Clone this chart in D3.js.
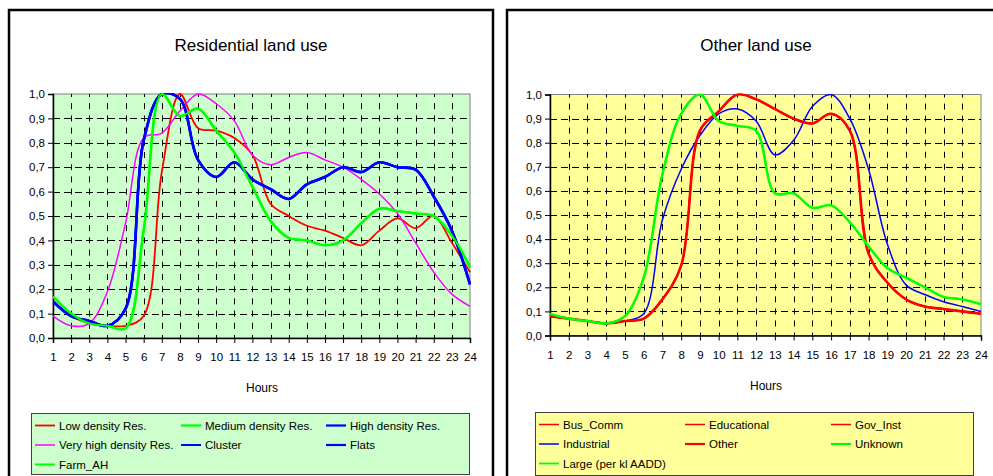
<!DOCTYPE html>
<html>
<head>
<meta charset="utf-8">
<script src="https://cdn.jsdelivr.net/npm/d3@7"></script>
<style>
  body { margin: 0; background: #fff; }
  svg { display: block; font-family: "Comic Sans MS", "Liberation Sans", Arial, sans-serif; }
  .tick-label { font-size: 11.5px; fill: #000; }
  .title { font-size: 17px; fill: #000; }
  .axis-title { font-size: 12px; fill: #000; }
  .legend-label { font-size: 11.5px; fill: #000; }
</style>
</head>
<body>
<svg width="993" height="476"></svg>
<script>
// hours on the x axis
const hours = [1, 2, 3, 4, 5, 6, 7, 8, 9, 10, 11, 12, 13, 14, 15, 16, 17, 18, 19, 20, 21, 22, 23, 24]
const yTicks = [0, 0.1, 0.2, 0.3, 0.4, 0.5, 0.6, 0.7, 0.8, 0.9, 1.0]

// Residential land use
const lowDensity = [0.15, 0.09, 0.06, 0.05, 0.05, 0.09, 0.68, 1.00, 0.86, 0.85, 0.82, 0.75, 0.55, 0.50, 0.46, 0.44, 0.41, 0.38, 0.44, 0.49, 0.45, 0.50, 0.39, 0.27]
const mediumDensity = [0.17, 0.10, 0.06, 0.05, 0.04, 0.44, 1.00, 0.91, 0.94, 0.85, 0.76, 0.62, 0.48, 0.41, 0.40, 0.38, 0.40, 0.47, 0.53, 0.52, 0.51, 0.50, 0.42, 0.29]
const highDensity = [0.15, 0.09, 0.07, 0.05, 0.12, 0.81, 1.00, 0.98, 0.73, 0.66, 0.72, 0.65, 0.61, 0.57, 0.63, 0.66, 0.70, 0.68, 0.72, 0.70, 0.69, 0.58, 0.44, 0.22]
const veryHighDensity = [0.09, 0.05, 0.06, 0.19, 0.47, 0.82, 0.84, 0.93, 1.00, 0.96, 0.89, 0.75, 0.71, 0.74, 0.76, 0.73, 0.70, 0.65, 0.59, 0.51, 0.39, 0.27, 0.18, 0.13]
const cluster = [0.15, 0.09, 0.07, 0.05, 0.12, 0.81, 1.00, 0.98, 0.73, 0.66, 0.72, 0.65, 0.61, 0.57, 0.63, 0.66, 0.70, 0.68, 0.72, 0.70, 0.69, 0.58, 0.44, 0.22]
const flats = [0.15, 0.09, 0.07, 0.05, 0.12, 0.81, 1.00, 0.98, 0.73, 0.66, 0.72, 0.65, 0.61, 0.57, 0.63, 0.66, 0.70, 0.68, 0.72, 0.70, 0.69, 0.58, 0.44, 0.22]
const farmAH = [0.17, 0.10, 0.06, 0.05, 0.04, 0.44, 1.00, 0.91, 0.94, 0.85, 0.76, 0.62, 0.48, 0.41, 0.40, 0.38, 0.40, 0.47, 0.53, 0.52, 0.51, 0.50, 0.42, 0.29]

// Other land use
const busComm = [0.08, 0.07, 0.06, 0.05, 0.06, 0.07, 0.15, 0.29, 0.85, 0.93, 1.00, 0.98, 0.94, 0.90, 0.88, 0.92, 0.85, 0.34, 0.22, 0.15, 0.12, 0.11, 0.10, 0.09]
const educational = [0.08, 0.07, 0.06, 0.05, 0.06, 0.07, 0.15, 0.29, 0.85, 0.93, 1.00, 0.98, 0.94, 0.90, 0.88, 0.92, 0.85, 0.34, 0.22, 0.15, 0.12, 0.11, 0.10, 0.09]
const govInst = [0.08, 0.07, 0.06, 0.05, 0.06, 0.07, 0.15, 0.29, 0.85, 0.93, 1.00, 0.98, 0.94, 0.90, 0.88, 0.92, 0.85, 0.34, 0.22, 0.15, 0.12, 0.11, 0.10, 0.09]
const industrial = [0.08, 0.07, 0.06, 0.05, 0.06, 0.09, 0.48, 0.69, 0.83, 0.92, 0.94, 0.89, 0.75, 0.81, 0.95, 1.00, 0.90, 0.69, 0.38, 0.21, 0.17, 0.14, 0.12, 0.10]
const other = [0.08, 0.07, 0.06, 0.05, 0.06, 0.07, 0.15, 0.29, 0.85, 0.93, 1.00, 0.98, 0.94, 0.90, 0.88, 0.92, 0.85, 0.34, 0.22, 0.15, 0.12, 0.11, 0.10, 0.09]
const unknown = [0.09, 0.07, 0.06, 0.05, 0.08, 0.24, 0.67, 0.92, 1.00, 0.89, 0.87, 0.85, 0.59, 0.59, 0.53, 0.54, 0.47, 0.37, 0.28, 0.24, 0.20, 0.16, 0.15, 0.13]
const largeAADD = [0.09, 0.07, 0.06, 0.05, 0.08, 0.24, 0.67, 0.92, 1.00, 0.89, 0.87, 0.85, 0.59, 0.59, 0.53, 0.54, 0.47, 0.37, 0.28, 0.24, 0.20, 0.16, 0.15, 0.13]

const residentialSeries = [
    { name: "Low density Res.", values: lowDensity, color: "#ff0000", width: 1.8 },
    { name: "Medium density Res.", values: mediumDensity, color: "#00ff00", width: 2.5 },
    { name: "High density Res.", values: highDensity, color: "#0000ff", width: 2.6 },
    { name: "Very high density Res.", values: veryHighDensity, color: "#ff00ff", width: 1.5 },
    { name: "Cluster", values: cluster, color: "#0000ff", width: 2 },
    { name: "Flats", values: flats, color: "#0000ff", width: 2.6 },
    { name: "Farm_AH", values: farmAH, color: "#00ff00", width: 2 }
]

const otherSeries = [
    { name: "Bus_Comm", values: busComm, color: "#ff0000", width: 1.5 },
    { name: "Educational", values: educational, color: "#ff0000", width: 1.5 },
    { name: "Gov_Inst", values: govInst, color: "#ff0000", width: 1.5 },
    { name: "Industrial", values: industrial, color: "#0000ff", width: 1.5 },
    { name: "Other", values: other, color: "#ff0000", width: 2.6 },
    { name: "Unknown", values: unknown, color: "#00ff00", width: 2.4 },
    { name: "Large (per kl AADD)", values: largeAADD, color: "#00ff00", width: 1.8 }
]

const svg = d3.select("svg")

drawPanel({
    id: "res", frameX: 9, frameW: 484,
    title: "Residential land use", titleX: 251,
    plot: { left: 53, right: 470, top: 94, bottom: 338 },
    bg: "#ccffcc", series: residentialSeries,
    hoursY: 392, hoursX: 262,
    legend: { x: 31, y: 413, w: 438, h: 61, cols: [4, 150, 295] }
})

drawPanel({
    id: "oth", frameX: 507, frameW: 500,
    title: "Other land use", titleX: 756,
    plot: { left: 550, right: 981, top: 94.5, bottom: 335.5 },
    bg: "#ffff99", series: otherSeries,
    hoursY: 390, hoursX: 766,
    legend: { x: 535, y: 412, w: 438, h: 63, cols: [4, 150, 296] }
})

function drawPanel(cfg) {
    const p = cfg.plot
    const g = svg.append("g")

    // outer frame
    g.append("rect")
        .attr("x", cfg.frameX).attr("y", 10)
        .attr("width", cfg.frameW).attr("height", 500)
        .attr("fill", "#fff").attr("stroke", "#000").attr("stroke-width", 2.5)

    g.append("text")
        .attr("class", "title")
        .attr("x", cfg.titleX).attr("y", 51)
        .attr("text-anchor", "middle")
        .text(cfg.title)

    const x = d3.scaleLinear().domain([1, 24]).range([p.left, p.right])
    const y = d3.scaleLinear().domain([0, 1]).range([p.bottom, p.top])

    g.append("rect")
        .attr("x", p.left).attr("y", p.top)
        .attr("width", p.right - p.left).attr("height", p.bottom - p.top)
        .attr("fill", cfg.bg).attr("stroke", "#808080").attr("stroke-width", 1)

    // horizontal dashed grid
    g.selectAll("line.hgrid")
        .data(yTicks.slice(1, -1))
        .enter()
        .append("line")
        .attr("class", "hgrid")
        .attr("x1", p.left).attr("x2", p.right)
        .attr("y1", d => Math.round(y(d)) + 0.5).attr("y2", d => Math.round(y(d)) + 0.5)
        .attr("stroke", "#000").attr("stroke-width", 1)
        .attr("stroke-dasharray", "7,4")

    // vertical dashed grid, dashes centred on every half step
    const half = (p.bottom - p.top) / 20
    g.selectAll("line.vgrid")
        .data(hours.slice(1, -1))
        .enter()
        .append("line")
        .attr("class", "vgrid")
        .attr("x1", d => Math.round(x(d)) + 0.5).attr("x2", d => Math.round(x(d)) + 0.5)
        .attr("y1", p.bottom).attr("y2", p.top)
        .attr("stroke", "#000").attr("stroke-width", 1)
        .attr("stroke-dasharray", `6,${half - 6}`)
        .attr("stroke-dashoffset", 3)

    // axes
    const yAxis = d3.axisLeft(y).tickValues(yTicks).tickSize(5).tickPadding(3)
        .tickFormat(d => d3.format(".1f")(d).replace(".", ","))
    const xAxis = d3.axisBottom(x).tickValues(hours).tickSize(5).tickPadding(10)
        .tickFormat(d3.format("d"))

    const ya = g.append("g").attr("transform", `translate(${p.left},0)`).call(yAxis)
    const xa = g.append("g").attr("transform", `translate(0,${p.bottom})`).call(xAxis)
    ;[ya, xa].forEach(a => {
        a.attr("font-size", null).attr("font-family", null)
        a.select(".domain").attr("stroke", "#000").attr("stroke-width", 1.5)
        a.selectAll(".tick line").attr("stroke", "#000")
        a.selectAll(".tick text").attr("class", "tick-label")
    })

    g.append("text")
        .attr("class", "axis-title")
        .attr("x", cfg.hoursX).attr("y", cfg.hoursY)
        .attr("text-anchor", "middle")
        .text("Hours")

    // series
    g.append("clipPath").attr("id", "clip-" + cfg.id)
        .append("rect")
        .attr("x", p.left).attr("y", p.top - 1)
        .attr("width", p.right - p.left + 1).attr("height", p.bottom - p.top + 1)

    const line = d3.line()
        .x((d, i) => x(hours[i]))
        .y(d => y(d))
        .curve(d3.curveCatmullRom.alpha(0.5))

    g.append("g")
        .attr("clip-path", `url(#clip-${cfg.id})`)
        .selectAll("path")
        .data(cfg.series)
        .enter()
        .append("path")
        .attr("d", d => line(d.values))
        .attr("fill", "none")
        .attr("stroke", d => d.color)
        .attr("stroke-width", d => d.width)
        .attr("stroke-linejoin", "round")

    // legend
    const L = cfg.legend
    g.append("rect")
        .attr("x", L.x + 0.5).attr("y", L.y + 0.5)
        .attr("width", L.w).attr("height", L.h)
        .attr("fill", cfg.bg).attr("stroke", "#404040").attr("stroke-width", 1)

    const items = g.selectAll("g.legend-item")
        .data(cfg.series)
        .enter()
        .append("g")
        .attr("class", "legend-item")
        .attr("transform", (d, i) => `translate(${L.x + L.cols[i % 3]},${L.y + 12.5 + Math.floor(i / 3) * 19.5})`)

    items.append("line")
        .attr("x1", 0).attr("x2", 20)
        .attr("stroke", d => d.color)
        .attr("stroke-width", d => Math.min(d.width, 2.2))

    items.append("text")
        .attr("class", "legend-label")
        .attr("x", 24).attr("y", 4)
        .text(d => d.name)
}
</script>
</body>
</html>
